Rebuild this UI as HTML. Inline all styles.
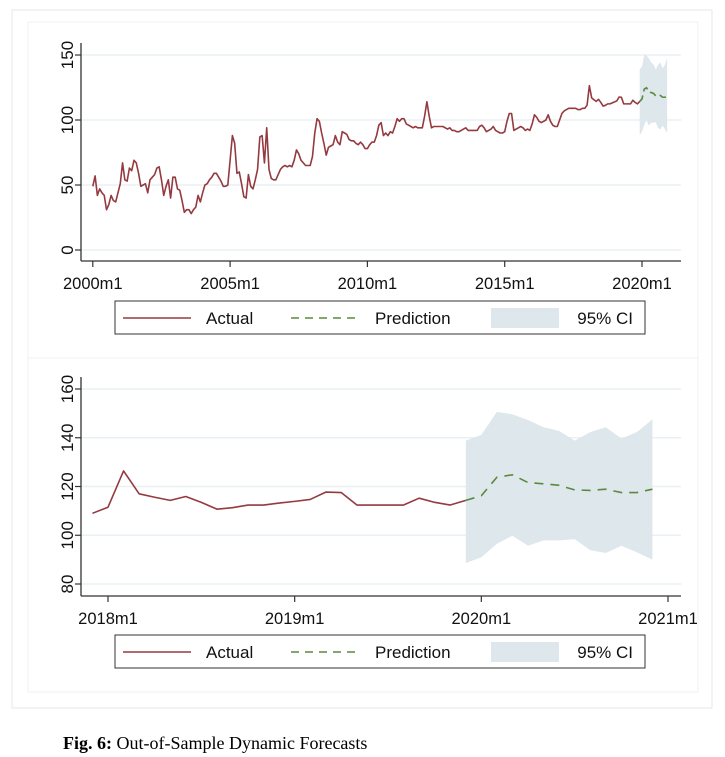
<!DOCTYPE html>
<html><head><meta charset="utf-8"><style>
body{margin:0;background:#fff;width:725px;height:757px;overflow:hidden;font-family:"Liberation Sans",Arial,sans-serif}
svg{position:absolute;left:0;top:0}
.cap{position:absolute;left:63px;top:733px;font-family:"Liberation Serif",serif;font-size:18px;color:#000}
</style></head><body>
<svg id="chart" width="725" height="757" xmlns="http://www.w3.org/2000/svg"></svg>
<div class="cap"><b>Fig. 6:</b> Out-of-Sample Dynamic Forecasts</div>
<script>
// Top chart: monthly actual 2000m1..2019m12
const actualTop = [
49,57,42,47,44,42,31,35,42,38,37,44,
51,67,54,53,63,61,69,67,59,49,50,51,
44,54,56,58,63,64,54,42,49,54,40,56,
56,47,46,38,29,31,31,28,31,33,42,37,
44,50,51,54,56,59,59,56,53,49,49,50,
69,88,82,59,60,51,41,40,58,49,47,54,
62,87,88,67,94,62,55,54,54,58,62,64,
65,64,65,64,69,77,74,69,67,65,65,65,
72,90,101,99,90,82,73,79,80,81,88,83,
81,91,90,89,85,84,84,82,81,83,81,78,
78,81,83,83,88,96,98,88,90,88,91,90,
95,101,99,101,101,97,96,95,94,95,94,94,
94,103,114,103,94,95,95,95,95,95,94,93,
94,92,92,91,91,92,93,94,92,92,92,92,
92,95,96,94,91,92,93,95,92,91,90,90,
91,99,105,105,92,93,94,95,94,92,93,92,
97,104,102,99,98,99,100,104,99,96,95,95,
100,105,107,108,109,109,109,109,108,108,109,109,
111.5,126.4,117,115.6,114.3,115.9,113.5,110.7,111.3,112.4,112.4,113.2,
113.9,114.7,117.7,117.5,112.4,112.4,112.4,112.4,115.2,113.5,112.4,114.3];
const topStart = 0; // months since 2000m1
// Bottom chart: actual 2017m12..2019m12
const actualBottom = [109,111.5,126.4,117,115.6,114.3,115.9,113.5,110.7,111.3,112.4,112.4,113.2,113.9,114.7,117.7,117.5,112.4,112.4,112.4,112.4,115.2,113.5,112.4,114.3];
// Forecast 2019m12..2020m12
const prediction = [114.3,116.2,123.8,124.8,121.6,121.1,120.5,118.6,118.4,118.9,117.5,117.5,118.9];
const ciUpper = [138.8,141.2,150.6,149.6,147.3,144.3,142.8,138.8,142.3,144.3,139.7,142.3,147.6];
const ciLower = [88.6,90.9,96.5,99.8,95.7,97.9,97.9,98.4,93.9,92.7,95.7,93.0,90.0];
const topYTicks = [0,50,100,150];
const topXLabels = ["2000m1","2005m1","2010m1","2015m1","2020m1"];
const botYTicks = [80,100,120,140,160];
const botXLabels = ["2018m1","2019m1","2020m1","2021m1"];

const svg = document.getElementById('chart');
const NS = 'http://www.w3.org/2000/svg';
function mk(tag, attrs, parent){const e=document.createElementNS(NS,tag);for(const k in attrs)e.setAttribute(k,attrs[k]);(parent||svg).appendChild(e);return e;}
const RED='#943a40', GREEN='#5b8a3c', CI='#dde7ec', GRID='#eaf1f4';

let f=mk('rect',{x:12,y:10,width:700,height:698,fill:'#fff',stroke:'#e6e8ea'});


f=mk('rect',{x:28,y:22,width:670,height:336,fill:'#fff',stroke:'#eef1f3'});


f=mk('rect',{x:28,y:358,width:670,height:334,fill:'#fff',stroke:'#eef1f3'});



function drawChart(cfg){
  const g=mk('g',{});
  
  
  const X=m=>cfg.x0+(m-cfg.m0)*cfg.pxm;
  const Y=v=>cfg.y0-(v-cfg.v0)*cfg.pxv;
  cfg.yTicks.forEach(t=>{
    const l=mk('line',{x1:81,x2:681,y1:Y(t),y2:Y(t),stroke:GRID,'stroke-width':1.5},g);
    
    
    mk('line',{x1:75,x2:81,y1:Y(t),y2:Y(t),stroke:'#333','stroke-width':1.2},g);
    const tx=mk('text',{x:0,y:0,transform:`translate(73,${Y(t)}) rotate(-90)`,'text-anchor':'middle','font-size':17,fill:'#111'},g);
    tx.textContent=t;
    
    
  });
  let d='';
  ciUpper.forEach((v,i)=>{d+=(i?'L':'M')+X(cfg.fm0+i)+','+Y(v);});
  for(let i=ciLower.length-1;i>=0;i--) d+='L'+X(cfg.fm0+i)+','+Y(ciLower[i]);
  const band=mk('path',{d:d+'Z',fill:CI},g);
  
  
  const ap=cfg.actual.map((v,i)=>X(cfg.am0+i)+','+Y(v)).join(' ');
  const al=mk('polyline',{points:ap,fill:'none',stroke:RED,'stroke-width':1.6,'stroke-linejoin':'round'},g);
  
  
  const pp=prediction.map((v,i)=>X(cfg.fm0+i)+','+Y(v)).join(' ');
  const pl=mk('polyline',{points:pp,fill:'none',stroke:GREEN,'stroke-width':1.6,'stroke-dasharray':cfg.dash},g);
  
  
  mk('line',{x1:81,x2:81,y1:cfg.axTop,y2:cfg.axBot,stroke:'#333','stroke-width':1.3},g);
  mk('line',{x1:81,x2:681,y1:cfg.axBot,y2:cfg.axBot,stroke:'#333','stroke-width':1.3},g);
  cfg.xLabels.forEach((s,i)=>{
    const m=cfg.xm0+i*cfg.xstep;
    mk('line',{x1:X(m),x2:X(m),y1:cfg.axBot,y2:cfg.axBot+6,stroke:'#333','stroke-width':1.2},g);
    const tx=mk('text',{x:X(m),y:cfg.axBot+28,'text-anchor':'middle','font-size':16.5,fill:'#111'},g);
    tx.textContent=s;
    
    
  });
  const lg=mk('g',{},g);
  
  
  const ly=cfg.legY;
  mk('rect',{x:115,y:ly,width:530,height:33,fill:'#fff',stroke:'#333','stroke-width':1},lg);
  mk('line',{x1:123,x2:191,y1:ly+17,y2:ly+17,stroke:RED,'stroke-width':1.6},lg);
  let t=mk('text',{x:206,y:ly+23,'font-size':17,fill:'#111'},lg);t.textContent='Actual';
  
  
  mk('line',{x1:291,x2:359,y1:ly+17,y2:ly+17,stroke:GREEN,'stroke-width':1.6,'stroke-dasharray':'8,6'},lg);
  t=mk('text',{x:375,y:ly+23,'font-size':17,fill:'#111'},lg);t.textContent='Prediction';
  
  
  mk('rect',{x:491,y:ly+7,width:68,height:20,fill:CI},lg);
  t=mk('text',{x:633,y:ly+23,'font-size':17,fill:'#111','text-anchor':'end'},lg);t.textContent='95% CI';
  
  
}
drawChart({name:'full-sample-chart',m0:0,x0:92.8,pxm:(642-92.8)/240,v0:0,y0:250,pxv:195/150,
  yTicks:topYTicks,actual:actualTop,am0:topStart,fm0:239,axTop:43,axBot:261,
  xLabels:topXLabels,xm0:0,xstep:60,legY:301,dash:'7,4'});
drawChart({name:'zoomed-forecast-chart',m0:0,x0:108,pxm:(668-108)/36,v0:80,y0:584,pxv:195/80,
  yTicks:botYTicks,actual:actualBottom,am0:-1,fm0:23,axTop:377,axBot:596,
  xLabels:botXLabels,xm0:0,xstep:12,legY:635,dash:'9,7'});
</script>
</body></html>
